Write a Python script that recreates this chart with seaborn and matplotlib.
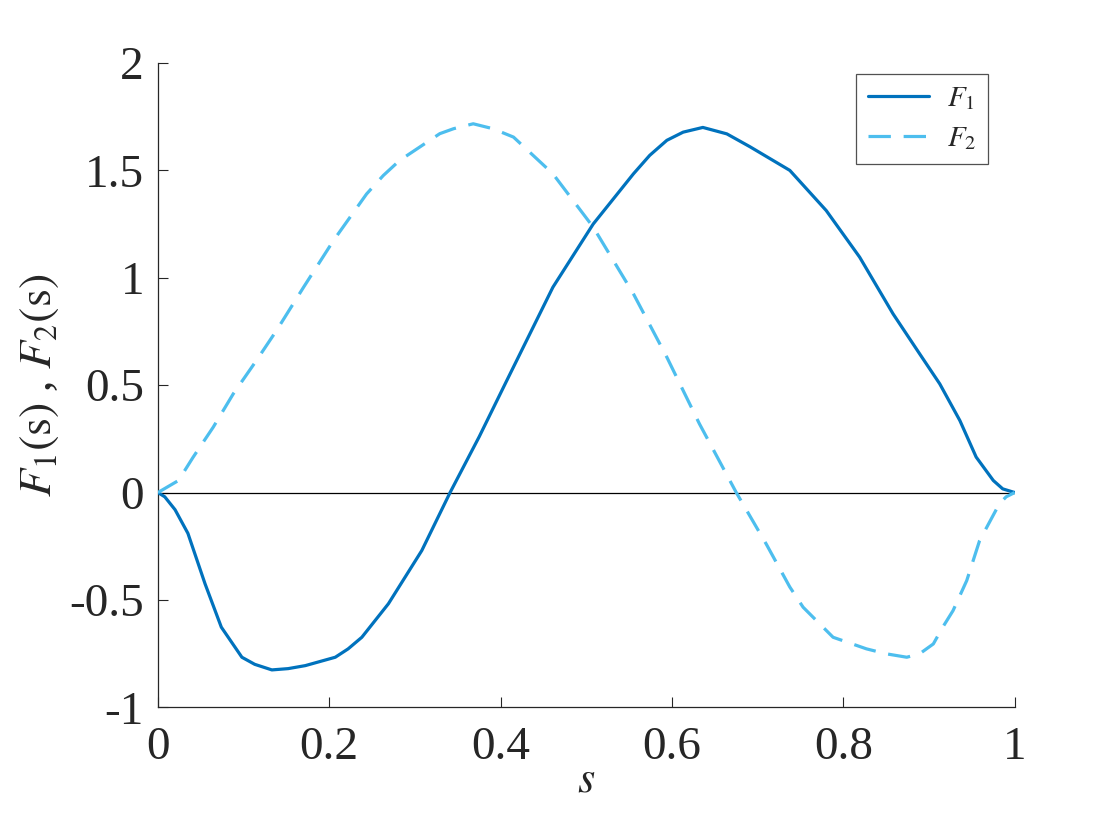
import numpy as np
import pandas as pd
import matplotlib
matplotlib.use("Agg")
import matplotlib.pyplot as plt
import seaborn as sns
from matplotlib.lines import Line2D

# values
s_f1 = [0, 0.008, 0.02, 0.035, 0.055, 0.074, 0.098, 0.113, 0.133, 0.152, 0.172, 0.207,
        0.222, 0.238, 0.269, 0.308, 0.341, 0.375, 0.407, 0.461, 0.508, 0.555, 0.574,
        0.594, 0.613, 0.636, 0.664, 0.691, 0.7375, 0.780, 0.819, 0.858, 0.889, 0.9125,
        0.936, 0.955, 0.975, 0.986, 1.0]
f1 = [0, -0.02, -0.08, -0.19, -0.425, -0.627, -0.767, -0.80, -0.826, -0.82, -0.806, -0.767,
      -0.728, -0.674, -0.518, -0.27, 0.0, 0.26, 0.52, 0.956, 1.25, 1.484, 1.57,
      1.64, 1.678, 1.70, 1.67, 1.61, 1.50, 1.313, 1.096, 0.832, 0.646, 0.506,
      0.335, 0.165, 0.056, 0.017, 0.0]

s_f2 = [0, 0.024, 0.041, 0.0645, 0.088, 0.115, 0.1385, 0.17, 0.205, 0.2435, 0.263, 0.282,
        0.329, 0.345, 0.368, 0.391, 0.415, 0.461, 0.508, 0.555, 0.594, 0.632, 0.675,
        0.710, 0.7375, 0.753, 0.788, 0.827, 0.85, 0.874, 0.889, 0.905, 0.916, 0.928,
        0.944, 0.959, 0.982, 0.99, 1.0]
f2 = [0, 0.056, 0.164, 0.304, 0.46, 0.615, 0.755, 0.956, 1.174, 1.39, 1.476, 1.546,
      1.671, 1.694, 1.717, 1.694, 1.655, 1.484, 1.236, 0.925, 0.63, 0.32, 0.0,
      -0.24, -0.44, -0.534, -0.674, -0.728, -0.751, -0.767, -0.751, -0.705, -0.627, -0.55,
      -0.41, -0.224, -0.053, -0.02, 0.0]

x_ticks = [0, 0.2, 0.4, 0.6, 0.8, 1]
x_labels = ["0", "0.2", "0.4", "0.6", "0.8", "1"]
y_ticks = [-1, -0.5, 0, 0.5, 1, 1.5, 2]
y_labels = ["-1", "-0.5", "0", "0.5", "1", "1.5", "2"]

df = pd.concat([
    pd.DataFrame({"s": s_f1, "F": f1, "series": "F1"}),
    pd.DataFrame({"s": s_f2, "F": f2, "series": "F2"}),
], ignore_index=True)

sns.set_theme(style="ticks")
plt.rcParams['font.family'] = ['Liberation Serif', 'DejaVu Serif']
plt.rcParams['mathtext.fontset'] = 'stix'
plt.rcParams['axes.unicode_minus'] = False

fig = plt.figure(figsize=(11.2, 8.4), dpi=100)
ax = fig.add_axes([0.141, 0.158, 0.765, 0.767])

palette = {"F1": "#0072BD", "F2": "#4DBEEE"}
dash = (7, 4)
ax.axhline(0, color="black", lw=0.9, zorder=1)
sns.lineplot(data=df, x="s", y="F", hue="series", style="series",
             palette=palette, dashes={"F1": "", "F2": dash},
             sort=False, estimator=None, lw=2.3, ax=ax, legend=False, zorder=3)

ax.set_xlim(0, 1)
ax.set_ylim(-1, 2)
ax.set_xticks(x_ticks)
ax.set_xticklabels(x_labels)
ax.set_yticks(y_ticks)
ax.set_yticklabels(y_labels)
ax.tick_params(direction="in", length=7, width=0.8, labelsize=34, colors="#262626")
ax.tick_params(axis="x", pad=14)
ax.tick_params(axis="y", pad=10)
for side in ["top", "right"]:
    ax.spines[side].set_visible(False)
for side in ["left", "bottom"]:
    ax.spines[side].set_color("#262626")
    ax.spines[side].set_linewidth(0.9)

ax.set_xlabel("$s$", fontsize=32, color="#262626", labelpad=-6)
ax.set_ylabel(r"$F_1(\mathrm{s})$ , $F_2(\mathrm{s})$", fontsize=33, color="#262626", labelpad=6)

# legend box in the top right corner
handles = [Line2D([], [], color="#0072BD", lw=2.3),
           Line2D([], [], color="#4DBEEE", lw=2.3, dashes=dash)]
leg = ax.legend(handles, ["$F_1$", "$F_2$"], loc="upper right",
                bbox_to_anchor=(0.9685, 0.983), borderaxespad=0, fontsize=21,
                frameon=True, fancybox=False, edgecolor="#262626", handlelength=2.1,
                borderpad=0.4, labelspacing=0.45, handletextpad=0.6)
leg.get_frame().set_linewidth(0.9)

fig.savefig("out.png", dpi=100)
